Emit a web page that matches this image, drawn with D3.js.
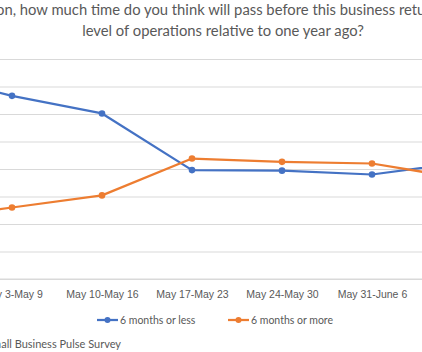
<!DOCTYPE html>
<html>
<head>
<meta charset="utf-8">
<script src="https://cdn.jsdelivr.net/npm/d3@7"></script>
<style>
  html, body { margin: 0; padding: 0; background: #fff; }
  svg { display: block; font-family: Lato, "Open Sans", sans-serif; }
  .grid line { stroke: #d9d9d9; stroke-width: 1; }
  .grid .domain { display: none; }
  .x.axis .domain { stroke: #d9d9d9; }
  .axis text { fill: #595959; font-size: 10.5px; }
</style>
</head>
<body>
<svg id="chart"></svg>
<script>
// weekly survey periods (first and last fall outside the visible crop)
const weeks = ["Apr 26-May 2", "May 3-May 9", "May 10-May 16", "May 17-May 23",
               "May 24-May 30", "May 31-June 6", "June 7-June 13"]
// share of businesses (%)
const sixOrLess = [37.4, 33.3, 30.1, 19.8, 19.7, 19.0, 21.2]
const sixOrMore = [10.8, 13.0, 15.2, 21.9, 21.3, 21.0, 18.3]
const yTicks = [0, 5, 10, 15, 20, 25, 30, 35, 40]
const seriesNames = ["6 months or less", "6 months or more"]
const titleLines = [
    "In your opinion, how much time do you think will pass before this business returns to its normal",
    "level of operations relative to one year ago?"
]
const sourceText = "Source: U.S. Census Bureau, Small Business Pulse Survey"

const width = 422, height = 352
const colors = ["#4472C4", "#ED7D31"]

const svg = d3.select("#chart")
    .attr("width", width)
    .attr("height", height)

// plot area is wider than the window: the picture is a crop of a larger chart
const plot = { left: -123, right: 507, top: 59, bottom: 279 }

const xScale = d3.scalePoint()
    .domain(weeks)
    .range([-78, 462])

const yScale = d3.scaleLinear()
    .domain([0, 40])
    .range([plot.bottom, plot.top])

// horizontal grid lines, value labels sit left of the crop
svg.append("g")
    .attr("class", "grid axis")
    .attr("transform", `translate(${plot.left}, 0)`)
    .call(d3.axisLeft(yScale)
        .tickValues(yTicks)
        .tickSize(-(plot.right - plot.left))
        .tickPadding(8)
        .tickFormat(d => d + "%"))

// category axis
svg.append("g")
    .attr("class", "x axis")
    .attr("transform", `translate(0, ${plot.bottom})`)
    .call(d3.axisBottom(xScale).tickSize(0).tickPadding(12))
    .call(g => g.select(".domain").attr("d", `M${plot.left},0H${plot.right}`))

// title
svg.append("g").selectAll("text")
    .data(titleLines)
    .enter().append("text")
    .attr("x", 223)
    .attr("y", (d, i) => 15 + i * 21)
    .attr("text-anchor", "middle")
    .attr("fill", "#595959")
    .attr("font-size", 14.8)
    .text(d => d)

const series = [sixOrLess, sixOrMore]
const line = d3.line()
    .x((d, i) => xScale(weeks[i]))
    .y(d => yScale(d))

series.forEach((values, s) => {
    svg.append("path")
        .datum(values)
        .attr("fill", "none")
        .attr("stroke", colors[s])
        .attr("stroke-width", 2.25)
        .attr("stroke-linejoin", "round")
        .attr("d", line)

    svg.append("g").selectAll("circle")
        .data(values)
        .enter().append("circle")
        .attr("cx", (d, i) => xScale(weeks[i]))
        .attr("cy", d => yScale(d))
        .attr("r", 3.3)
        .attr("fill", colors[s])
})

// legend
const legendX = [97, 228]
const legend = svg.append("g").selectAll("g")
    .data(seriesNames)
    .enter().append("g")
    .attr("transform", (d, i) => `translate(${legendX[i]}, 320)`)
legend.append("line")
    .attr("x1", 0).attr("x2", 21)
    .attr("stroke", (d, i) => colors[i])
    .attr("stroke-width", 2.25)
legend.append("circle")
    .attr("cx", 10.5).attr("r", 3)
    .attr("fill", (d, i) => colors[i])
legend.append("text")
    .attr("x", 23)
    .attr("dy", "0.35em")
    .attr("fill", "#595959")
    .attr("font-size", 10.5)
    .text(d => d)

// source note
svg.append("text")
    .attr("x", 121)
    .attr("y", 348)
    .attr("text-anchor", "end")
    .attr("fill", "#595959")
    .attr("font-size", 11)
    .text(sourceText)
</script>
</body>
</html>
